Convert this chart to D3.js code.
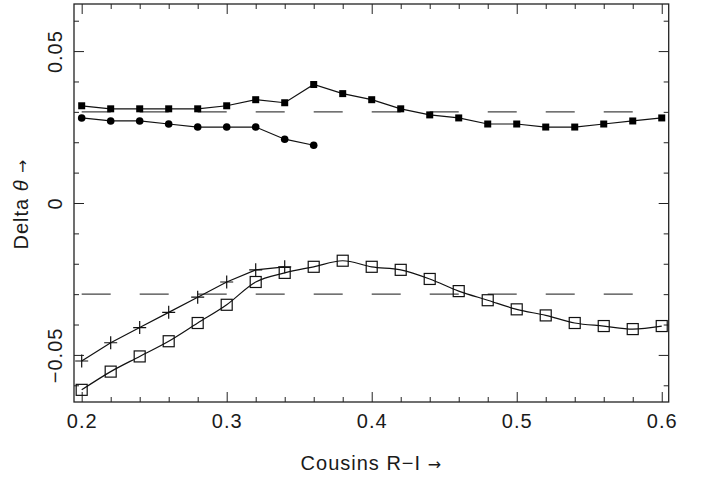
<!DOCTYPE html>
<html>
<head>
<meta charset="utf-8">
<style>
  body { margin: 0; background: #fff; }
  svg { display: block; font-family: "Liberation Sans", Arial, sans-serif; }
  .axis path, .axis line { stroke: #222; }
  .axis text { font-size: 20px; letter-spacing: 1px; fill: #1a1a1a; }
  .arrow { font-family: "DejaVu Sans", sans-serif; font-size: 16px; }
</style>
<script src="https://d3js.org/d3.v7.min.js"></script>
</head>
<body>
<svg width="702" height="477"></svg>
<script>
// colour R-I values (shared by every series)
var xs = [0.20, 0.22, 0.24, 0.26, 0.28, 0.30, 0.32, 0.34, 0.36, 0.38, 0.40,
          0.42, 0.44, 0.46, 0.48, 0.50, 0.52, 0.54, 0.56, 0.58, 0.60];

// filled squares
var filledSq = [0.032, 0.031, 0.031, 0.031, 0.031, 0.032, 0.034, 0.033, 0.039, 0.036, 0.034,
                0.031, 0.029, 0.028, 0.026, 0.026, 0.025, 0.025, 0.026, 0.027, 0.028];
// filled circles (only up to 0.36)
var filledCirc = [0.028, 0.027, 0.027, 0.026, 0.025, 0.025, 0.025, 0.021, 0.019];
// plus signs (up to 0.34)
var plusVals = [-0.052, -0.046, -0.041, -0.036, -0.031, -0.026, -0.022, -0.021];
// open squares
var openSq = [-0.0615, -0.0555, -0.0505, -0.0455, -0.0395, -0.0335, -0.026, -0.023, -0.021, -0.019, -0.021,
              -0.022, -0.025, -0.029, -0.032, -0.035, -0.037, -0.0395, -0.0405, -0.0415, -0.0405];

// dashed reference levels
var refLevels = [0.03, -0.03];
var refRange = [0.2, 0.58];

var xMajor = [0.2, 0.3, 0.4, 0.5, 0.6];
var yMajor = [-0.05, 0, 0.05];

var svg = d3.select("svg");
var pLeft = 74, pRight = 668.7, pTop = 4, pBottom = 402;

var x = d3.scaleLinear().domain([0.1947, 0.6048]).range([pLeft, pRight]);
var y = d3.scaleLinear().domain([-0.0655, 0.0655]).range([pBottom, pTop]);

var xMinor = d3.range(0.2, 0.601, 0.02).filter(function(v){ return Math.abs(v*10 - Math.round(v*10)) > 1e-6; });
var yMinor = d3.range(-0.06, 0.0601, 0.01).filter(function(v){ return Math.abs(v*20 - Math.round(v*20)) > 1e-6; });

// frame
svg.append("rect")
  .attr("x", pLeft).attr("y", pTop)
  .attr("width", pRight - pLeft).attr("height", pBottom - pTop)
  .attr("fill", "none").attr("stroke", "#222").attr("stroke-width", 1.3);

function addAxis(axis, tx, ty) {
  return svg.append("g").attr("class", "axis")
    .attr("transform", "translate(" + tx + "," + ty + ")")
    .call(axis)
    .call(function(g){ g.select(".domain").remove(); });
}

// bottom
var gxb = addAxis(d3.axisBottom(x).tickValues(xMajor).tickSizeInner(-10).tickSizeOuter(0)
  .tickFormat(d3.format(".1f")), 0, pBottom);
gxb.selectAll("text").attr("y", 26).attr("dy", 0);
addAxis(d3.axisBottom(x).tickValues(xMinor).tickSizeInner(-5).tickSizeOuter(0).tickFormat(""), 0, pBottom);
// top
addAxis(d3.axisTop(x).tickValues(xMajor).tickSizeInner(-10).tickSizeOuter(0).tickFormat(""), 0, pTop);
addAxis(d3.axisTop(x).tickValues(xMinor).tickSizeInner(-5).tickSizeOuter(0).tickFormat(""), 0, pTop);
// left
var gyl = addAxis(d3.axisLeft(y).tickValues(yMajor).tickSizeInner(-10).tickSizeOuter(0)
  .tickFormat(function(d){ return d === 0 ? "0" : d3.format(".2f")(d); }), pLeft, 0);
gyl.selectAll("text")
  .attr("transform", "rotate(-90)")
  .attr("x", 0).attr("y", -12).attr("dy", 0)
  .attr("text-anchor", "middle");
addAxis(d3.axisLeft(y).tickValues(yMinor).tickSizeInner(-5).tickSizeOuter(0).tickFormat(""), pLeft, 0);
// right
addAxis(d3.axisRight(y).tickValues(yMajor).tickSizeInner(-10).tickSizeOuter(0).tickFormat(""), pRight, 0);
addAxis(d3.axisRight(y).tickValues(yMinor).tickSizeInner(-5).tickSizeOuter(0).tickFormat(""), pRight, 0);

// dashed levels
var dashLen = x(0.22) - x(0.2);
svg.selectAll(".ref").data(refLevels).enter().append("line")
  .attr("class", "ref")
  .attr("x1", x(refRange[0])).attr("x2", x(refRange[1]))
  .attr("y1", function(d){ return y(d); }).attr("y2", function(d){ return y(d); })
  .attr("stroke", "#444").attr("stroke-width", 1.2)
  .attr("stroke-dasharray", dashLen + "," + dashLen);

function pts(vals) { return vals.map(function(v, i){ return [xs[i], v]; }); }

var lineLin = d3.line().x(function(d){ return x(d[0]); }).y(function(d){ return y(d[1]); });
var lineSmooth = d3.line().curve(d3.curveMonotoneX).x(function(d){ return x(d[0]); }).y(function(d){ return y(d[1]); });

function drawLine(data, gen) {
  svg.append("path").datum(data).attr("d", gen)
    .attr("fill", "none").attr("stroke", "#111").attr("stroke-width", 1.2);
}

var fsq = pts(filledSq), fc = pts(filledCirc), pl = pts(plusVals), osq = pts(openSq);
drawLine(fsq, lineLin);
drawLine(fc, lineLin);
drawLine(pl, lineLin);
drawLine(osq, lineSmooth);

// filled squares
svg.selectAll(".fsq").data(fsq).enter().append("rect")
  .attr("class", "fsq")
  .attr("x", function(d){ return x(d[0]) - 3.5; })
  .attr("y", function(d){ return y(d[1]) - 3.5; })
  .attr("width", 7).attr("height", 7).attr("fill", "#000");

// filled circles
svg.selectAll(".fc").data(fc).enter().append("circle")
  .attr("class", "fc")
  .attr("cx", function(d){ return x(d[0]); })
  .attr("cy", function(d){ return y(d[1]); })
  .attr("r", 3.8).attr("fill", "#000");

// open squares
svg.selectAll(".osq").data(osq).enter().append("rect")
  .attr("class", "osq")
  .attr("x", function(d){ return x(d[0]) - 5.5; })
  .attr("y", function(d){ return y(d[1]) - 5.5; })
  .attr("width", 11).attr("height", 11)
  .attr("fill", "none").attr("stroke", "#111").attr("stroke-width", 1.2);

// plus signs
svg.selectAll(".pl").data(pl).enter().append("path")
  .attr("class", "pl")
  .attr("d", function(d){
    var cx = x(d[0]), cy = y(d[1]), h = 6.5;
    return "M" + (cx - h) + "," + cy + "H" + (cx + h) + "M" + cx + "," + (cy - h) + "V" + (cy + h);
  })
  .attr("stroke", "#111").attr("stroke-width", 1.2).attr("fill", "none");

// axis titles
var xt = svg.append("text")
  .attr("x", (pLeft + pRight) / 2).attr("y", 470)
  .attr("text-anchor", "middle")
  .style("font-size", "20px").style("letter-spacing", "1px").attr("fill", "#1a1a1a");
xt.append("tspan").text("Cousins R\u2212I ");
xt.append("tspan").attr("class", "arrow").text("\u2192");

var yt = svg.append("text")
  .attr("transform", "translate(28,204) rotate(-90)")
  .attr("text-anchor", "middle")
  .style("font-size", "20px").style("letter-spacing", "1px").attr("fill", "#1a1a1a");
yt.append("tspan").text("Delta ");
yt.append("tspan").style("font-style", "italic").text("\u03b8");
yt.append("tspan").text(" ");
yt.append("tspan").attr("class", "arrow").text("\u2192");
</script>
</body>
</html>
